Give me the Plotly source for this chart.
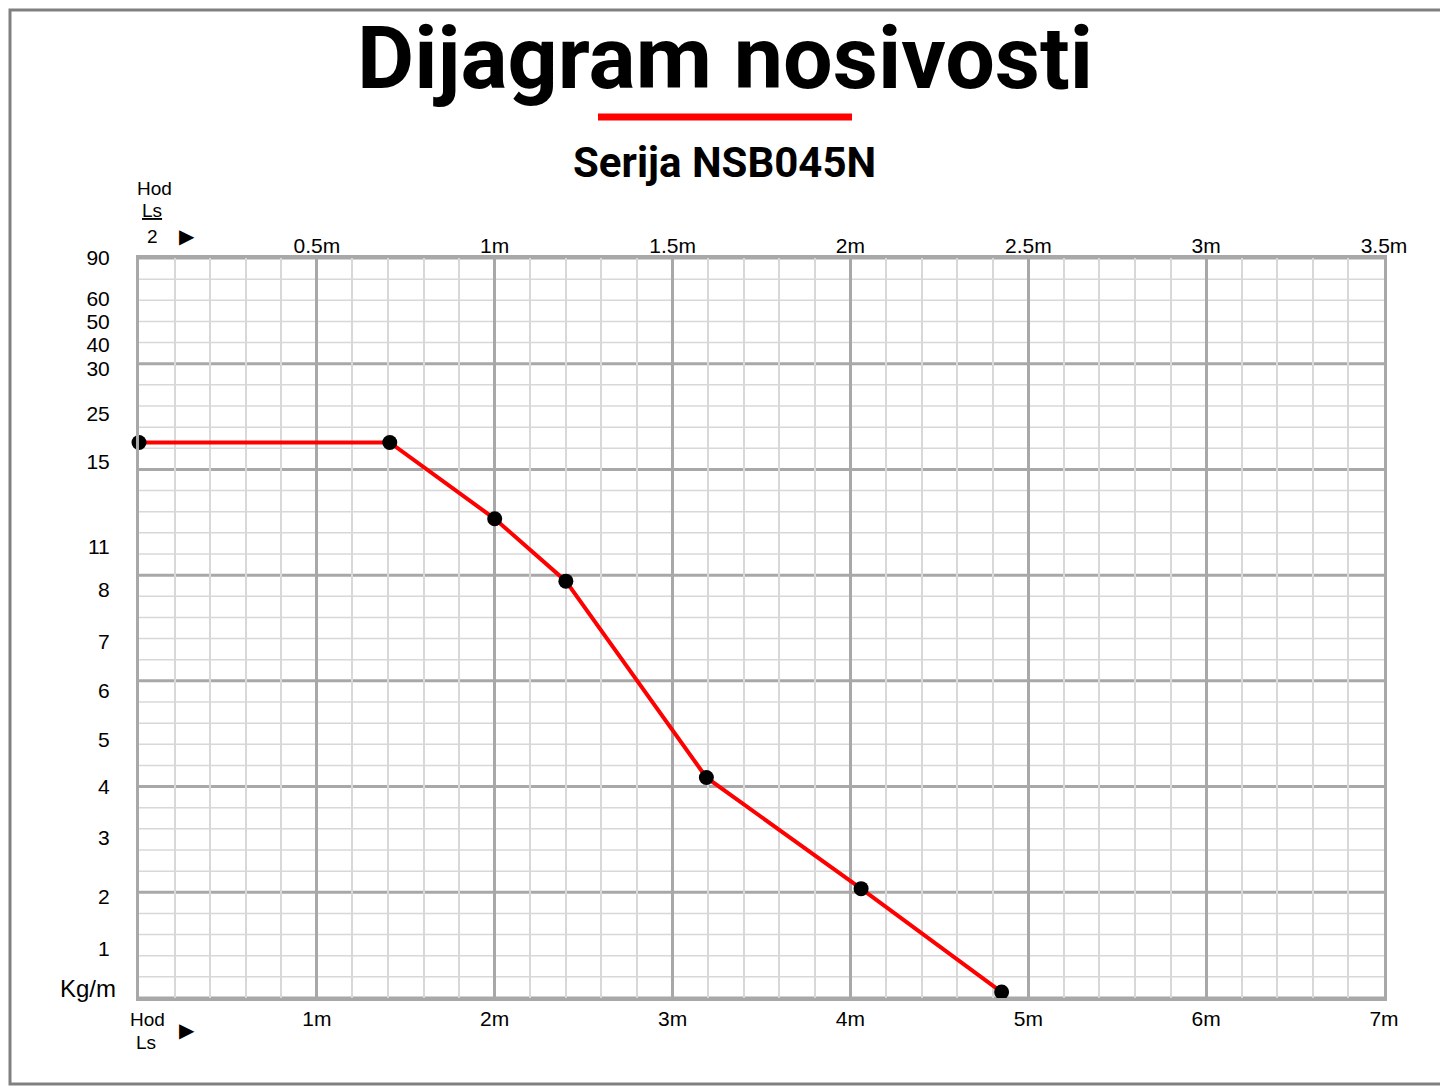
import numpy as np
import plotly.graph_objects as go

# y scale of the chart is not linear: label value -> grid position (rows)
y_labels = [0, 1, 2, 3, 4, 5, 6, 7, 8, 11, 15, 25, 30, 40, 50, 60, 90]
y_rows = [0.0, 0.47, 0.96, 1.51, 1.99, 2.44, 2.90, 3.36, 3.85, 4.26, 5.06, 5.51, 5.94, 6.16, 6.38, 6.60, 6.98]

stroke_m = [0, 1.41, 2.0, 2.4, 3.19, 4.06, 4.85]
load_kg = [19, 19, 12.3, 8.6, 4.2, 2.13, 0.12]

bottom_ticks = [1, 2, 3, 4, 5, 6, 7]
top_ticks = [0.5, 1, 1.5, 2, 2.5, 3, 3.5]

y_pos = np.interp(load_kg, y_labels, y_rows)
fnt = dict(family="Liberation Sans", size=21, color="black")

fig = go.Figure()
fig.add_trace(go.Scatter(
    x=stroke_m, y=y_pos, mode="lines+markers",
    line=dict(color="#ff0000", width=4),
    marker=dict(color="black", size=15), cliponaxis=False, showlegend=False,
))
fig.add_trace(go.Scatter(x=[0, 3.5], y=[0, 0], xaxis="x2", mode="none",
                         showlegend=False, hoverinfo="skip"))

OFF = 8  # page offset of the figure in the browser
L, T, PW, PH = 139 - OFF, 258 - OFF, 1245, 740

fig.update_layout(
    width=1448, height=1086,
    paper_bgcolor="white", plot_bgcolor="white",
    margin=dict(l=L, r=1448 - L - PW, t=T, b=1086 - T - PH),
    xaxis=dict(range=[0, 7], tickvals=bottom_ticks,
               ticktext=[f"{v}m" for v in bottom_ticks], tickfont=fnt,
               showgrid=True, gridcolor="#a8a8a8", gridwidth=3, dtick=1,
               minor=dict(dtick=0.2, showgrid=True, gridcolor="#d8d8d8", gridwidth=1.5),
               showline=True, linecolor="#a8a8a8", linewidth=3, mirror=True,
               zeroline=False, ticks=""),
    xaxis2=dict(range=[0, 3.5], overlaying="x", side="top", tickvals=top_ticks,
                ticktext=[f"{v:g}m" for v in top_ticks], tickfont=fnt,
                showgrid=False, zeroline=False, ticks=""),
    yaxis=dict(range=[0, 6.98], tickvals=y_rows[1:], ticktext=[str(v) for v in y_labels[1:]],
               tickfont=fnt, showgrid=False, zeroline=False, ticks="",
               showline=True, linecolor="#a8a8a8", linewidth=3, mirror=True, ticklabelstandoff=22),
)
# grid rows: 7 major bands, 5 minor each
for i in range(36):
    major = i % 5 == 0
    fig.add_shape(type="line", xref="x", yref="y", x0=0, x1=7, y0=i * 6.98 / 35, y1=i * 6.98 / 35,
                  line=dict(color="#a8a8a8" if major else "#d8d8d8", width=3 if major else 1.5),
                  layer="below")

def px(x, y):
    # reference pixel coords -> paper coords
    return (x - OFF - L) / PW, (1086 - (y - OFF) - (1086 - T - PH)) / PH

def txt(x, y, t, size, bold=False, family="Roboto"):
    xp, yp = px(x, y)
    fig.add_annotation(xref="paper", yref="paper", x=xp, y=yp,
                       text=f"<b>{t}</b>" if bold else t, showarrow=False, xanchor="center",
                       yanchor="middle", font=dict(family=family, size=size, color="black"))

txt(725, 57, "Dijagram nosivosti", 88, bold=True)
txt(724, 162, "Serija NSB045N", 42, bold=True)
txt(154, 188, "Hod", 19, family="Liberation Sans")
txt(152, 210, "<u>Ls</u>", 19, family="Liberation Sans")
txt(152, 236, "2", 19, family="Liberation Sans")
txt(187, 236, "▶", 20, family="Liberation Sans")
txt(147, 1020, "Hod", 19, family="Liberation Sans")
txt(146, 1042, "Ls", 19, family="Liberation Sans")
txt(187, 1030, "▶", 20, family="Liberation Sans")
txt(88, 988, "Kg/m", 24, family="Liberation Sans")

x0, y0 = px(598, 117)
x1, _ = px(852, 117)
fig.add_shape(type="line", xref="paper", yref="paper", x0=x0, x1=x1, y0=y0, y1=y0,
              line=dict(color="#ff0000", width=7))
bx0, by0 = px(OFF + 2, OFF + 2)
bx1, by1 = px(1445, 1084)
fig.add_shape(type="rect", xref="paper", yref="paper", x0=bx0, x1=bx1, y0=by1, y1=by0,
              line=dict(color="#808080", width=3))

fig.write_html("out.html")
